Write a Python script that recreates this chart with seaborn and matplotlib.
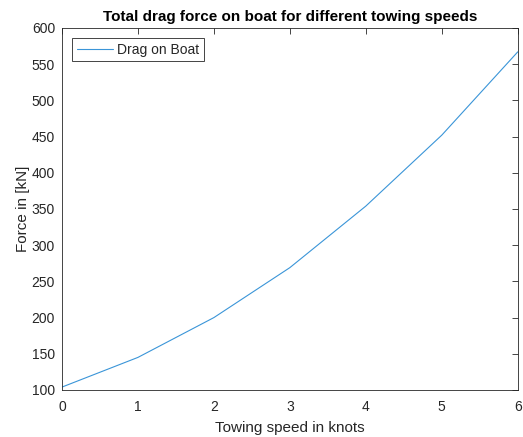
import matplotlib
matplotlib.use("Agg")
import matplotlib.pyplot as plt
import seaborn as sns
import pandas as pd

speed_knots = [0, 1, 2, 3, 4, 5, 6]
drag_kN = [104, 145, 200, 269, 354, 452, 567]
series_label = "Drag on Boat"

sns.set_theme(style="white")
plt.rcParams['font.family'] = ['Liberation Sans', 'DejaVu Sans']

df = pd.DataFrame({"speed": speed_knots, "drag": drag_kN})

fig = plt.figure(figsize=(5.23, 4.37), dpi=100)
ax = fig.add_axes([0.1185, 0.1076, 0.8715, 0.8284])
sns.lineplot(data=df, x="speed", y="drag", ax=ax, color="#3A95D8", linewidth=0.8,
             label=series_label)

ax.set_xlim(0, 6)
ax.set_ylim(100, 600)
ax.set_xticks(range(0, 7))
ax.set_yticks(range(100, 601, 50))
ax.set_xlabel("Towing speed in knots", fontsize=11, color="#262626", labelpad=5)
ax.set_ylabel("Force in [kN]", fontsize=11, color="#262626", labelpad=1)
ax.set_title("Total drag force on boat for different towing speeds", fontsize=11,
             fontweight="bold", color="black", pad=5)
for s in ax.spines.values():
    s.set_color("#262626")
    s.set_linewidth(0.6)
ax.tick_params(direction="in", top=True, right=True, length=4, width=0.6,
               labelsize=10, colors="#262626")
ax.tick_params(axis="x", pad=7)
ax.tick_params(axis="y", pad=5)
leg = ax.legend(loc="upper left", fontsize=10, frameon=True, fancybox=False,
                edgecolor="#262626", framealpha=1, borderpad=0.35,
                handlelength=2.6, handletextpad=0.3, borderaxespad=0.7)
leg.get_frame().set_linewidth(0.6)

fig.savefig("out.png", dpi=100)
